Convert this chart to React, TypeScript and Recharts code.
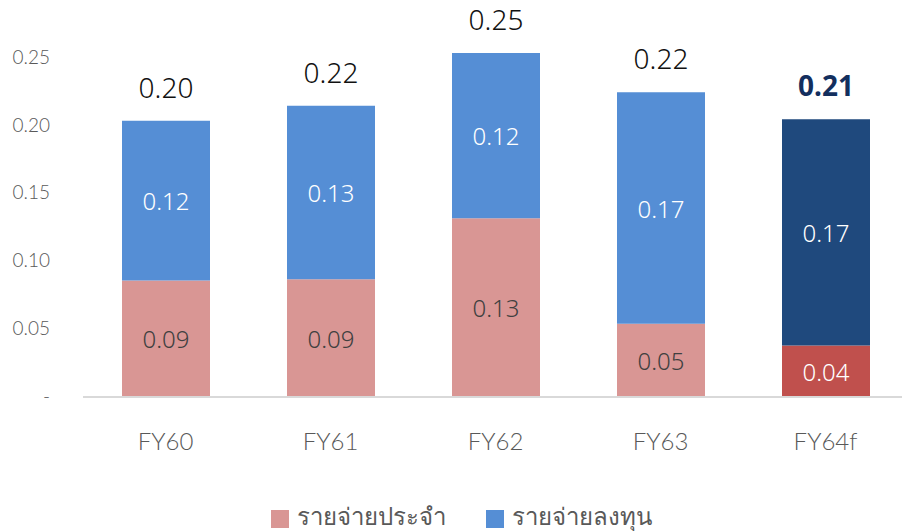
import React from "react";
import { BarChart, Bar, XAxis, YAxis, Legend, LabelList, Cell } from "recharts";

const years = ["FY60", "FY61", "FY62", "FY63", "FY64f"];
const regular = [0.086, 0.087, 0.132, 0.054, 0.038];
const invest = [0.118, 0.128, 0.122, 0.171, 0.167];
const totals = ["0.20", "0.22", "0.25", "0.22", "0.21"];
const yTicks = [0, 0.05, 0.1, 0.15, 0.2, 0.25];

const data = years.map((y, i) => ({ year: y, regular: regular[i], invest: invest[i], total: totals[i] }));

const labelFont = "'Noto Sans', 'Open Sans', sans-serif";
const lastIdx = years.length - 1;

const TotalLabel = (props: any) => {
  const { x, y, width, index } = props;
  const last = index === lastIdx;
  return (
    <text
      x={x + width / 2}
      y={y - 34}
      textAnchor="middle"
      dominantBaseline="central"
      fontSize={28}
      fontFamily={labelFont}
      fontWeight={last ? 700 : 300}
      fill={last ? "#132f5e" : "#111"}
    >
      {totals[index]}
    </text>
  );
};

const InnerLabel = (color: string) => (props: any) => {
  const { x, y, width, height, value } = props;
  return (
    <text
      x={x + width / 2}
      y={y + height / 2}
      textAnchor="middle"
      dominantBaseline="central"
      fontSize={24}
      fontFamily={labelFont}
      fontWeight={300}
      fill={color}
    >
      {Number(value).toFixed(2)}
    </text>
  );
};

const YTick = (props: any) => {
  const { x, y, payload } = props;
  return (
    <text x={x} y={y - 2} textAnchor="end" dominantBaseline="central" fontSize={19} fontWeight={300} fontFamily="Lato, sans-serif" fill="#595959">
      {payload.value === 0 ? "-" : payload.value.toFixed(2)}
    </text>
  );
};

export default function App() {
  return (
    <div style={{ position: "absolute", left: 0, top: 0, width: 902, height: 531, overflow: "hidden", background: "#fff" }}>
      <BarChart
        width={910}
        height={531}
        data={data}
        margin={{ top: 53, right: 2, bottom: 0, left: 0 }}
      >
        <XAxis
          dataKey="year"
          axisLine={{ stroke: "#d9d9d9", strokeWidth: 2 }}
          tickLine={false}
          tick={{ fontSize: 24, fill: "#595959", fontFamily: "Lato, sans-serif", fontWeight: 300 }}
          tickMargin={30}
          height={100}
        />
        <YAxis
          domain={[0, 0.25]}
          ticks={yTicks}
          axisLine={false}
          tickLine={false}
          tick={<YTick />}
          width={83}
          tickMargin={27}
        />
        <Legend
          verticalAlign="bottom"
          align="center"
          iconType="square"
          iconSize={18}
          height={34}
          wrapperStyle={{ fontSize: 24, fontFamily: labelFont, fontWeight: 300, paddingLeft: 12 }}
          formatter={(v: string, _e: any, i: number) => (
            <span style={{ color: "#595959", marginRight: i === 0 ? 30 : 0, marginLeft: 4 }}>{v}</span>
          )}
        />
        <Bar dataKey="regular" name="รายจ่ายประจำ" stackId="a" fill="#d99694" barSize={88} isAnimationActive={false}>
          {data.map((d, i) => (
            <Cell key={d.year} fill={i === lastIdx ? "#c0504d" : "#d99694"} />
          ))}
          <LabelList dataKey="regular" content={(p: any) => InnerLabel(p.index === lastIdx ? "#ffffff" : "#404040")(p)} />
        </Bar>
        <Bar dataKey="invest" name="รายจ่ายลงทุน" stackId="a" fill="#558ed5" barSize={88} isAnimationActive={false}>
          {data.map((d, i) => (
            <Cell key={d.year} fill={i === lastIdx ? "#1f497d" : "#558ed5"} />
          ))}
          <LabelList dataKey="invest" content={InnerLabel("#ffffff")} />
          <LabelList dataKey="total" content={<TotalLabel />} />
        </Bar>
      </BarChart>
    </div>
  );
}
